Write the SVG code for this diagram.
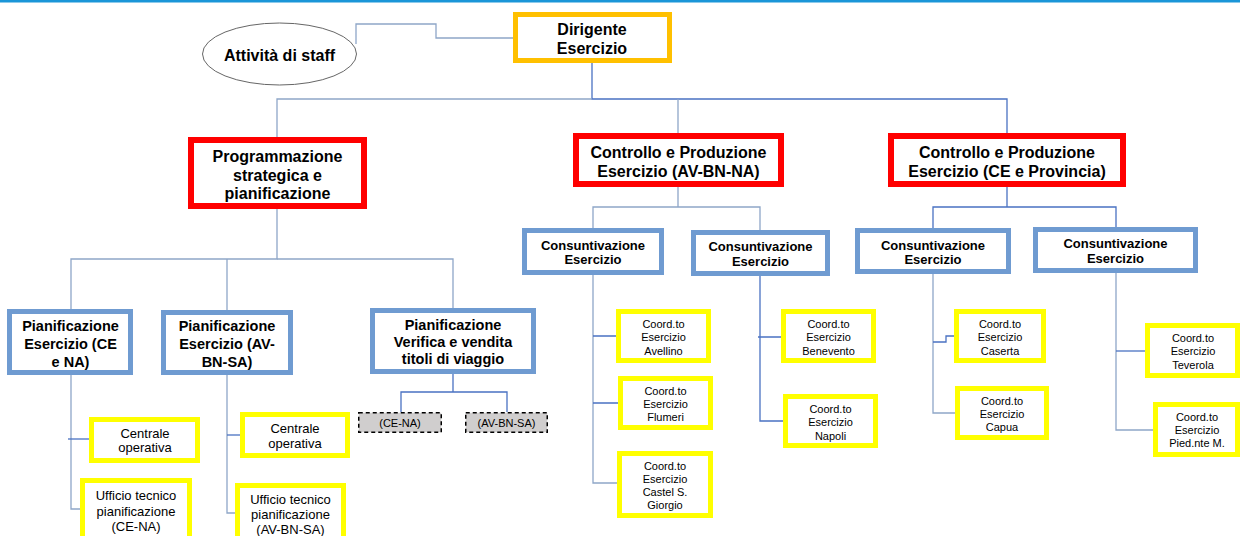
<svg xmlns="http://www.w3.org/2000/svg" width="1240" height="536" viewBox="0 0 1240 536">
<style>
text{font-family:"Liberation Sans",Arial,sans-serif;fill:#000;text-anchor:middle}
.b16{font-size:16px;font-weight:bold}
.b14{font-size:14.5px;font-weight:bold}
.b13{font-size:13px;font-weight:bold}
.r13{font-size:13px}
.r11{font-size:11px}
.orange{fill:#fff;stroke:#ffc000;stroke-width:5}
.red{fill:#fff;stroke:#ff0000;stroke-width:6}
.blue{fill:#fff;stroke:#6f9bd1;stroke-width:5}
.yel{fill:#fff;stroke:#ffff00;stroke-width:5}
.dash{fill:#d0cece;stroke:#000;stroke-width:1.5;stroke-dasharray:4 3}
.lt{fill:none;stroke:#8ea6c8;stroke-width:1.3}
.dk{fill:none;stroke:#4a72c2;stroke-width:1.3}
</style>
<rect x="0" y="0" width="1240" height="536" fill="#fff"/>
<rect x="0" y="0" width="1240" height="2.5" fill="#1a96d8"/>

<g id="connectors">
  <path class="lt" d="M356,44 V24 H436 V38 H515"/>
  <path class="dk" d="M592,63 V99 H1007 V134"/>
  <path class="lt" d="M592,99 H277 V137"/>
  <path class="lt" d="M678,99 V133"/>
  <path class="lt" d="M277,209 V259 H71 V309"/>
  <path class="lt" d="M227,259 V310"/>
  <path class="lt" d="M277,259 H453 V308"/>
  <path class="lt" d="M71,375 V509 H82"/>
  <path class="dk" d="M68,439 H92"/>
  <path class="lt" d="M227,375 V513 H237"/>
  <path class="dk" d="M227,435 H242"/>
  <path class="dk" d="M453,374 V392 M401,412 V392 H507 V412"/>
  <path class="lt" d="M678,187 V207 H593 V228 M678,207 H760 V230"/>
  <path class="lt" d="M593,275 V483 H617"/>
  <path class="dk" d="M593,336 H618 M593,403 H620"/>
  <path class="dk" d="M760,276 V421 H785 M758,337 H783"/>
  <path class="dk" d="M1007,187 V207 H933 V228 M1007,207 H1116 V227"/>
  <path class="lt" d="M933,274 V413 H955"/>
  <path class="dk" d="M933,342 H946 V336 H956"/>
  <path class="lt" d="M1116,273 V430 H1155"/>
  <path class="dk" d="M1116,351 H1147"/>
</g>

<g id="staff">
  <ellipse cx="279.5" cy="54" rx="77" ry="31" fill="#fff" stroke="#666" stroke-width="1"/>
  <text class="b16" x="279.5" y="60.5">Attività di staff</text>
</g>
<g id="dirigente">
  <rect class="orange" x="515.5" y="14.5" width="154" height="46"/>
  <text class="b16" x="592" y="35">Dirigente</text>
  <text class="b16" x="592" y="54">Esercizio</text>
</g>
<g id="programmazione">
  <rect class="red" x="191" y="140" width="173" height="66"/>
  <text class="b16" x="277.5" y="161.5">Programmazione</text>
  <text class="b16" x="277.5" y="180.5">strategica e</text>
  <text class="b16" x="277.5" y="198.5">pianificazione</text>
</g>
<g id="controllo-av">
  <rect class="red" x="576" y="136" width="205" height="48"/>
  <text class="b16" x="678.5" y="157.5">Controllo e Produzione</text>
  <text class="b16" x="678.5" y="176.5">Esercizio (AV-BN-NA)</text>
</g>
<g id="controllo-ce">
  <rect class="red" x="891" y="136" width="232" height="48"/>
  <text class="b16" x="1007" y="157.5">Controllo e Produzione</text>
  <text class="b16" x="1007" y="176.5">Esercizio (CE e Provincia)</text>
</g>

<g id="pian-ce-na">
  <rect class="blue" x="9.5" y="311.5" width="121" height="61"/>
  <text class="b14" x="70.5" y="331">Pianificazione</text>
  <text class="b14" x="70.5" y="349">Esercizio (CE</text>
  <text class="b14" x="70.5" y="367">e NA)</text>
</g>
<g id="pian-av-bn-sa">
  <rect class="blue" x="163.5" y="312.5" width="127" height="60"/>
  <text class="b14" x="227" y="331">Pianificazione</text>
  <text class="b14" x="227" y="349">Esercizio (AV-</text>
  <text class="b14" x="227" y="367">BN-SA)</text>
</g>
<g id="pian-verifica">
  <rect class="blue" x="372.5" y="310.5" width="161" height="61"/>
  <text class="b14" x="453" y="330">Pianificazione</text>
  <text class="b14" x="453" y="347">Verifica e vendita</text>
  <text class="b14" x="453" y="364">titoli di viaggio</text>
</g>
<g id="dash-ce-na">
  <rect class="dash" x="358.75" y="412.75" width="82.5" height="19.5"/>
  <text class="r11" x="400" y="427">(CE-NA)</text>
</g>
<g id="dash-av-bn-sa">
  <rect class="dash" x="465.75" y="412.75" width="81.5" height="19.5"/>
  <text class="r11" x="506.5" y="427">(AV-BN-SA)</text>
</g>

<g id="centrale-1">
  <rect class="yel" x="91.5" y="419.5" width="106" height="41"/>
  <text class="r13" x="145" y="437.5">Centrale</text>
  <text class="r13" x="145" y="451.5">operativa</text>
</g>
<g id="ufficio-1">
  <rect class="yel" x="82.5" y="480.5" width="107" height="64"/>
  <text class="r13" x="136" y="499.5">Ufficio tecnico</text>
  <text class="r13" x="136" y="515.5">pianificazione</text>
  <text class="r13" x="136" y="530.5">(CE-NA)</text>
</g>
<g id="centrale-2">
  <rect class="yel" x="242.5" y="414.5" width="105" height="41"/>
  <text class="r13" x="295" y="432.5">Centrale</text>
  <text class="r13" x="295" y="447.5">operativa</text>
</g>
<g id="ufficio-2">
  <rect class="yel" x="237.5" y="485.5" width="106" height="60"/>
  <text class="r13" x="290.5" y="503.5">Ufficio tecnico</text>
  <text class="r13" x="290.5" y="518.5">pianificazione</text>
  <text class="r13" x="290.5" y="533.5">(AV-BN-SA)</text>
</g>

<g id="cons-1">
  <rect class="blue" x="524.5" y="230.5" width="137" height="42"/>
  <text class="b13" x="593" y="249.5">Consuntivazione</text>
  <text class="b13" x="593" y="263.5">Esercizio</text>
</g>
<g id="cons-2">
  <rect class="blue" x="693.5" y="232.5" width="134" height="41"/>
  <text class="b13" x="760.5" y="250.5">Consuntivazione</text>
  <text class="b13" x="760.5" y="265.5">Esercizio</text>
</g>
<g id="cons-3">
  <rect class="blue" x="857.5" y="230.5" width="151" height="41"/>
  <text class="b13" x="933" y="249.5">Consuntivazione</text>
  <text class="b13" x="933" y="263.5">Esercizio</text>
</g>
<g id="cons-4">
  <rect class="blue" x="1035.5" y="229.5" width="160" height="41"/>
  <text class="b13" x="1115.5" y="247.5">Consuntivazione</text>
  <text class="b13" x="1115.5" y="262.5">Esercizio</text>
</g>

<g id="avellino">
  <rect class="yel" x="618.5" y="311.5" width="90" height="49"/>
  <text class="r11" x="663.5" y="328">Coord.to</text>
  <text class="r11" x="663.5" y="341">Esercizio</text>
  <text class="r11" x="663.5" y="355">Avellino</text>
</g>
<g id="flumeri">
  <rect class="yel" x="620.5" y="378.5" width="90" height="49"/>
  <text class="r11" x="665.5" y="395">Coord.to</text>
  <text class="r11" x="665.5" y="408">Esercizio</text>
  <text class="r11" x="665.5" y="421">Flumeri</text>
</g>
<g id="castel">
  <rect class="yel" x="619.5" y="453.5" width="91" height="62"/>
  <text class="r11" x="665" y="470">Coord.to</text>
  <text class="r11" x="665" y="483">Esercizio</text>
  <text class="r11" x="665" y="496">Castel S.</text>
  <text class="r11" x="665" y="509">Giorgio</text>
</g>
<g id="benevento">
  <rect class="yel" x="783.5" y="311.5" width="90" height="49"/>
  <text class="r11" x="828.5" y="328">Coord.to</text>
  <text class="r11" x="828.5" y="341">Esercizio</text>
  <text class="r11" x="828.5" y="355">Benevento</text>
</g>
<g id="napoli">
  <rect class="yel" x="785.5" y="396.5" width="90" height="49"/>
  <text class="r11" x="830.5" y="413">Coord.to</text>
  <text class="r11" x="830.5" y="426">Esercizio</text>
  <text class="r11" x="830.5" y="440">Napoli</text>
</g>
<g id="caserta">
  <rect class="yel" x="956.5" y="311.5" width="87" height="49"/>
  <text class="r11" x="1000" y="328">Coord.to</text>
  <text class="r11" x="1000" y="341">Esercizio</text>
  <text class="r11" x="1000" y="355">Caserta</text>
</g>
<g id="capua">
  <rect class="yel" x="957.5" y="388.5" width="89" height="49"/>
  <text class="r11" x="1002" y="405">Coord.to</text>
  <text class="r11" x="1002" y="418">Esercizio</text>
  <text class="r11" x="1002" y="431">Capua</text>
</g>
<g id="teverola">
  <rect class="yel" x="1147.5" y="325.5" width="90" height="50"/>
  <text class="r11" x="1193" y="342">Coord.to</text>
  <text class="r11" x="1193" y="355">Esercizio</text>
  <text class="r11" x="1193" y="369">Teverola</text>
</g>
<g id="pied">
  <rect class="yel" x="1155.5" y="404.5" width="82" height="50"/>
  <text class="r11" x="1197" y="421">Coord.to</text>
  <text class="r11" x="1197" y="434">Esercizio</text>
  <text class="r11" x="1197" y="447">Pied.nte M.</text>
</g>
</svg>
